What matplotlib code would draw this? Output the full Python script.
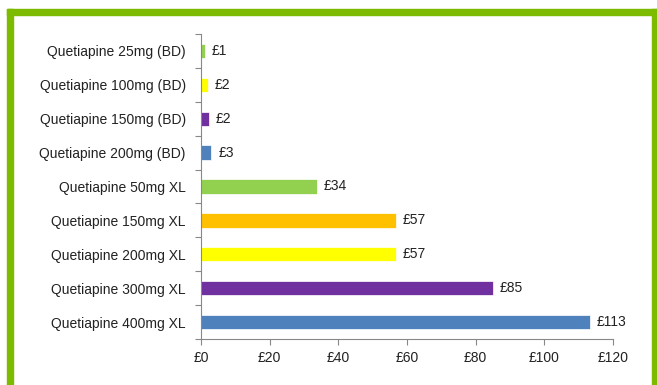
import matplotlib.pyplot as plt
from matplotlib.patches import Rectangle

drugs = [
    "Quetiapine 25mg (BD)",
    "Quetiapine 100mg (BD)",
    "Quetiapine 150mg (BD)",
    "Quetiapine 200mg (BD)",
    "Quetiapine 50mg XL",
    "Quetiapine 150mg XL",
    "Quetiapine 200mg XL",
    "Quetiapine 300mg XL",
    "Quetiapine 400mg XL",
]
costs = [1.2, 2.0, 2.3, 3.0, 33.8, 56.8, 56.8, 85.0, 113.2]
cost_labels = ["£1", "£2", "£2", "£3", "£34", "£57", "£57", "£85", "£113"]
colours = ["#92D050", "#FFFF00", "#7030A0", "#4F81BD", "#92D050",
           "#FFC000", "#FFFF00", "#7030A0", "#4F81BD"]
xticks = [0, 20, 40, 60, 80, 100, 120]

plt.rcParams['font.family'] = ['Liberation Sans', 'DejaVu Sans']

fig = plt.figure(figsize=(6.57, 3.85), dpi=100)
W, H = 657, 385

# green frame
green = "#7DBB00"
fig.patches.append(Rectangle((7 / W, 0), 6 / W, (385 - 9) / H, transform=fig.transFigure, color=green))
fig.patches.append(Rectangle((7 / W, 1 - 15 / H), (657 - 7) / W, 6 / H, transform=fig.transFigure, color=green))
fig.patches.append(Rectangle((652 / W, 0), 6 / W, (385 - 9) / H, transform=fig.transFigure, color=green))

ax = fig.add_axes([201 / W, 1 - 339 / H, (613 - 201) / W, (339 - 34) / H])
y = list(range(len(drugs)))
ax.barh(y, costs, height=0.42, color=colours, edgecolor='white', linewidth=0.5)
for yi, c, lab in zip(y, costs, cost_labels):
    ax.text(c + 2.0, yi, lab, va='center', ha='left', fontsize=10, color='#222222')

ax.set_ylim(len(drugs) - 0.5, -0.5)
ax.set_xlim(0, 120)
ax.set_yticks(y)
ax.set_yticklabels(drugs, fontsize=10, color='#222222')
ax.set_yticks([i - 0.5 for i in range(len(drugs) + 1)], minor=True)
ax.tick_params(axis='y', which='major', length=0, pad=11)
ax.tick_params(axis='y', which='minor', length=4, color='#888888', width=0.8)
ax.set_xticks(xticks)
ax.set_xticklabels([f"£{v}" for v in xticks], fontsize=10, color='#222222')
ax.tick_params(axis='x', length=4, color='#888888', width=0.8, pad=5)
for s in ['top', 'right']:
    ax.spines[s].set_visible(False)
for s in ['left', 'bottom']:
    ax.spines[s].set_color('#888888')
    ax.spines[s].set_linewidth(0.8)

fig.savefig('out.png', dpi=100)
